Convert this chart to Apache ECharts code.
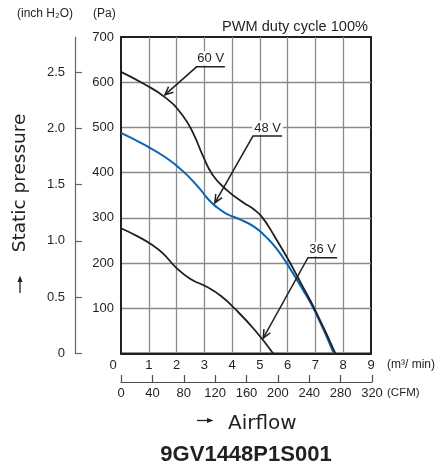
<!DOCTYPE html>
<html>
<head>
<meta charset="utf-8">
<script src="https://cdn.jsdelivr.net/npm/echarts@6/dist/echarts.min.js"></script>
<style>
html,body{margin:0;padding:0;background:#fff;}
#c{width:448px;height:468px;}
</style>
</head>
<body>
<div id="c"></div>
<script>
// ---- data (airflow m3/min, static pressure Pa) ----
const curve60V = [[0,623],[0.8,597],[1.6,566],[2.2,528],[2.6,487],[2.95,437],[3.3,395],[3.8,362],[4.4,334],[4.8,318],[5.1,300],[5.5,262],[6.0,210],[6.5,153],[7.0,95],[7.72,0]];
const curve48V = [[0,488],[0.8,463],[1.6,434],[2.2,405],[2.8,367],[3.1,344],[3.4,326],[3.8,309],[4.3,296],[4.8,280],[5.2,259],[5.6,232],[6.0,196],[6.5,146],[7.0,91],[7.66,0]];
const curve36V = [[0,277],[0.6,259],[1.1,241],[1.5,222],[2.0,189],[2.5,165],[3.1,147],[3.6,127],[4.1,99],[4.8,53],[5.48,0]];
const voltLabels = ['60 V','48 V','36 V'];
// leader: [underline start q, underline end q, underline P, arrow tip q, arrow tip P]
const leaders = [[2.72,3.74,634,1.58,572],[4.75,5.80,481,3.38,333],[6.73,7.78,212,5.12,34]];
const inchTicks = [0,0.5,1,1.5,2,2.5];
const paMax = 700;
const paPerInch = 249.089;
const cfmMax = 320;

const FONT = 'Liberation Sans, Arial, Helvetica, sans-serif';
const WIDE = 'DejaVu Sans, Liberation Sans, sans-serif';
const INK = '#231f20';
const chart = echarts.init(document.getElementById('c'), null, {renderer:'canvas'});

const option = {
  backgroundColor:'#fff',
  animation:false,
  textStyle:{fontFamily:FONT},
  grid:[
    {left:121, top:37, width:250, height:316.5, show:true, borderColor:INK, borderWidth:2, backgroundColor:'transparent'},
    {left:75, top:37, width:1, height:316.5},
    {left:121, top:381, width:251, height:1}
  ],
  xAxis:[
    {gridIndex:0, type:'value', min:0, max:9, interval:1,
     axisLine:{show:true, onZero:false, lineStyle:{color:INK, width:2}},
     axisTick:{show:false},
     splitLine:{show:true, showMinLine:false, showMaxLine:false, lineStyle:{color:'#8a8a8a', width:1.3}},
     axisLabel:{margin:5, fontSize:13, color:INK, fontFamily:FONT,
       formatter:v=> v===0 ? '{z|0}' : String(v),
       rich:{z:{padding:[0,16,0,0], fontSize:13, color:INK, fontFamily:FONT}}}},
    {gridIndex:1, type:'value', show:false, min:0, max:1},
    {gridIndex:2, type:'value', min:0, max:cfmMax, interval:40, position:'bottom',
     axisLine:{show:true, onZero:false, lineStyle:{color:'#4d4d4d', width:1.2}},
     axisTick:{show:true, inside:true, length:7, lineStyle:{color:'#4d4d4d', width:1.2}},
     splitLine:{show:false},
     axisLabel:{margin:5, fontSize:13, color:INK, fontFamily:FONT}}
  ],
  yAxis:[
    {gridIndex:0, type:'value', min:0, max:paMax, interval:100,
     axisLine:{show:true, onZero:false, lineStyle:{color:INK, width:2}},
     axisTick:{show:false},
     splitLine:{show:true, showMinLine:false, showMaxLine:false, lineStyle:{color:'#8a8a8a', width:1.3}},
     axisLabel:{margin:7, fontSize:13, color:INK, fontFamily:FONT, showMinLabel:false}},
    {gridIndex:1, type:'value', min:0, max:paMax/paPerInch, position:'left',
     axisLine:{show:true, onZero:false, lineStyle:{color:'#666', width:1.2}},
     axisTick:{show:true, inside:true, length:7, customValues:inchTicks, lineStyle:{color:'#666', width:1.2}},
     splitLine:{show:false},
     axisLabel:{margin:10, fontSize:13, color:INK, fontFamily:FONT, customValues:inchTicks,
       formatter:v=> v===0 ? '0' : v.toFixed(1)}},
    {gridIndex:2, type:'value', show:false, min:0, max:1}
  ],
  series:[
    {type:'line', name:'36 V', xAxisIndex:0, yAxisIndex:0, data:curve36V, smooth:0.5, showSymbol:false,
     lineStyle:{color:INK, width:1.8}},
    {type:'line', name:'48 V', xAxisIndex:0, yAxisIndex:0, data:curve48V, smooth:0.5, showSymbol:false,
     lineStyle:{color:'#0a64b4', width:2}},
    {type:'line', name:'60 V', xAxisIndex:0, yAxisIndex:0, data:curve60V, smooth:0.5, showSymbol:false,
     lineStyle:{color:INK, width:1.8}},
    {type:'custom', xAxisIndex:0, yAxisIndex:0, data:leaders, z:5,
     encode:{x:[0,1,3], y:[2,4]},
     renderItem:function(params, api){
       const a = api.coord([api.value(0), api.value(2)]);
       const b = api.coord([api.value(1), api.value(2)]);
       const t = api.coord([api.value(3), api.value(4)]);
       const ang = Math.atan2(t[1]-a[1], t[0]-a[0]);
       const L = 9, w = 0.42;
       const h1 = [t[0]-L*Math.cos(ang-w), t[1]-L*Math.sin(ang-w)];
       const h2 = [t[0]-L*Math.cos(ang+w), t[1]-L*Math.sin(ang+w)];
       const st = {stroke:INK, lineWidth:1.5, fill:null};
       return {type:'group', children:[
         {type:'text', z2:1, style:{text:voltLabels[params.dataIndex], x:(a[0]+b[0])/2, y:a[1]-1.5,
           align:'center', verticalAlign:'bottom', fill:INK, font:'13px '+FONT,
           backgroundColor:'#fff', padding:[1,2,0,2]}},
         {type:'polyline', z2:2, shape:{points:[b,a,t]}, style:st},
         {type:'polyline', z2:2, shape:{points:[h1,t,h2]}, style:st}
       ]};
     }}
  ],
  graphic:[
    {type:'text', left:17, top:8, style:{text:'(inch H\u2082O)', font:'12px '+FONT, fill:INK}},
    {type:'text', left:93, top:8, style:{text:'(Pa)', font:'12px '+FONT, fill:INK}},
    {type:'text', x:368, y:27, style:{text:'PWM duty cycle 100%', font:'14.6px '+FONT, fill:INK, align:'right', verticalAlign:'middle'}},
    {type:'text', x:387, y:365, style:{text:'(m\u00b3/ min)', font:'12px '+FONT, fill:INK, verticalAlign:'middle'}},
    {type:'text', x:387, y:393, style:{text:'(CFM)', font:'11.5px '+FONT, fill:INK, verticalAlign:'middle'}},
    {type:'line', shape:{x1:197, y1:420.5, x2:209, y2:420.5}, style:{stroke:INK, lineWidth:1.3}},
    {type:'polygon', shape:{points:[[213.5,420.5],[207,418],[207,423]]}, style:{fill:INK}},
    {type:'text', x:228, y:424, style:{text:'Airflow', font:'20px '+WIDE, fill:INK, verticalAlign:'middle'}},
    {type:'text', x:20.5, y:183, rotation:Math.PI/2, style:{text:'Static pressure', font:'18.5px '+WIDE, fill:INK, align:'center', verticalAlign:'middle'}},
    {type:'line', shape:{x1:20, y1:293, x2:20, y2:280}, style:{stroke:INK, lineWidth:1.3}},
    {type:'polygon', shape:{points:[[20,275.5],[17.5,282],[22.5,282]]}, style:{fill:INK}},
    {type:'text', x:246, y:455, style:{text:'9GV1448P1S001', font:'bold 22px '+FONT, fill:INK, align:'center', verticalAlign:'middle'}}
  ]
};
chart.setOption(option);
</script>
</body>
</html>
